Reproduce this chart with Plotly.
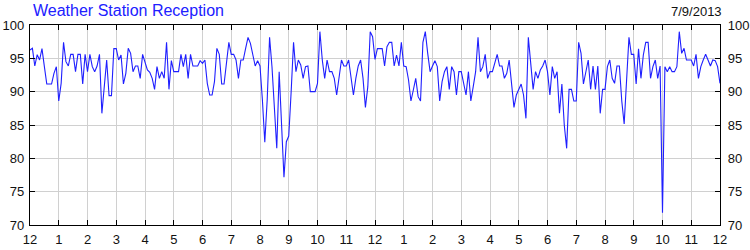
import plotly.graph_objects as go

# Reception (%) sampled every 5 minutes over 24 hours (289 samples)
reception = [
    96.25, 96.5, 93.85, 95.55, 94.75, 96.45, 93.75, 91.15, 91.15, 91.15,
    92.75, 93.75, 88.6, 91.25, 97.4, 94.5, 93.85, 95.6, 95.6, 93.0,
    95.6, 95.6, 91.15, 95.6, 93.0, 95.6, 93.75, 93.0, 93.85, 95.6,
    86.75, 90.75, 94.75, 89.4, 89.4, 96.45, 96.45, 94.75,
    95.5, 91.15, 92.75, 96.5, 95.75, 93.0, 93.85, 93.85, 92.0, 95.6,
    94.5, 93.25, 92.9, 92.0, 90.35, 93.75, 92.0, 93.0, 92.0, 97.4,
    90.35, 94.65, 93.0, 93.0, 93.0, 95.6, 93.75, 95.6, 92.0, 95.6,
    93.85, 93.85, 93.85, 94.65, 94.25,
    94.75, 91.25, 89.5, 89.5, 91.5, 96.5, 95.6, 91.15, 91.15, 94.75,
    97.4, 95.6, 95.6, 94.75, 92.0, 94.75, 94.75, 96.5, 98.15, 97.25,
    95.75, 93.85, 94.65, 93.85, 88.75, 82.4, 88.75, 98.15, 93.75, 88.25,
    81.5, 93.0, 85.75, 77.15, 82.5,
    83.35, 90.0, 97.4, 93.0, 94.75, 94.0, 92.0, 93.75, 93.85, 90.0,
    90.0, 90.0, 91.25, 99.0, 94.75, 92.0, 94.75, 93.0, 93.0, 92.0,
    89.5, 92.0, 94.75, 93.85, 93.85, 94.75, 92.25, 89.5, 92.0, 93.85,
    94.75, 92.0, 87.65, 90.75, 99.0,
    98.25, 94.85, 96.45, 96.45, 96.45, 93.85, 96.75, 97.4, 97.4, 93.85,
    95.5, 93.85, 97.4, 93.85, 93.75, 91.75, 88.6, 90.25, 92.0, 89.25,
    88.6, 97.4, 99.0, 95.75, 93.0, 93.85, 94.65, 93.75, 88.6, 91.5,
    93.0, 93.75, 90.35, 93.75, 93.0,
    89.5, 93.0, 93.0, 91.25, 89.5, 93.0, 88.6, 90.75, 93.0, 98.15,
    93.0, 93.75, 95.6, 92.0, 93.0, 93.0, 94.25, 95.6, 93.85, 93.85,
    92.0, 92.75, 94.75, 90.75, 87.65, 89.5, 90.25, 91.15, 89.5, 86.0,
    98.15, 94.25, 90.35, 93.0, 92.0, 93.25,
    93.85, 94.75, 93.0, 89.5, 93.75, 92.0, 93.0, 86.75, 91.15, 85.0,
    81.5, 90.35, 90.35, 88.6, 88.6, 97.4, 95.75, 91.15, 93.25, 94.75,
    90.35, 93.85, 90.35, 93.85, 86.75, 90.35, 90.35, 93.75, 94.75, 92.0,
    91.25, 93.85, 93.85, 88.6, 85.15,
    92.75, 98.15, 95.6, 95.6, 91.15, 96.45, 92.0, 95.5, 97.4, 97.4,
    92.0, 93.75, 94.75, 92.0, 93.85, 71.85, 93.75, 93.0, 93.75, 93.0,
    93.0, 93.75, 99.0, 95.75, 96.5, 94.75, 94.75, 94.75, 93.85, 95.6,
    92.0, 93.75, 94.75, 95.6, 94.75, 93.85, 94.75, 94.65, 93.75, 91.25,
]
samples_per_hour = 12
hours = [i / samples_per_hour for i in range(len(reception))]

hour_ticks = list(range(25))
hour_labels = ["12", "1", "2", "3", "4", "5", "6", "7", "8", "9", "10", "11",
               "12", "1", "2", "3", "4", "5", "6", "7", "8", "9", "10", "11", "12"]
y_ticks = [70, 75, 80, 85, 90, 95, 100]

title_text = "Weather Station Reception"
date_text = "7/9/2013"

FONT = "Arial, Liberation Sans, sans-serif"

fig = go.Figure()
fig.add_trace(go.Scatter(
    x=hours, y=reception, mode="lines",
    line=dict(color="#1f1fff", width=1.1),
    hoverinfo="skip", showlegend=False,
))
# invisible trace to activate right axis
fig.add_trace(go.Scatter(
    x=[hours[0]], y=[reception[0]], yaxis="y2", mode="markers",
    marker=dict(opacity=0), showlegend=False, hoverinfo="skip",
))

axis_common = dict(
    showline=True, linecolor="black", linewidth=1.2,
    ticks="inside", ticklen=5, tickcolor="black", tickwidth=1,
    showgrid=True, gridcolor="#d0d0d0", gridwidth=1,
    zeroline=False, automargin=False,
    tickfont=dict(family=FONT, size=13, color="#111111"),
)

fig.update_layout(
    width=750, height=250,
    margin=dict(l=30, r=30, t=25, b=25),
    paper_bgcolor="white", plot_bgcolor="white",
    xaxis=dict(
        range=[0, 24], tickmode="array", tickvals=hour_ticks, ticktext=hour_labels,
        mirror="ticks", ticklabelstandoff=2, **axis_common,
    ),
    yaxis=dict(
        range=[70, 100], tickmode="array", tickvals=y_ticks,
        mirror="ticks", ticklabelstandoff=2, **axis_common,
    ),
    yaxis2=dict(
        range=[70, 100], tickmode="array", tickvals=y_ticks,
        overlaying="y", side="right", showgrid=False,
        showline=True, linecolor="black", linewidth=1.2,
        ticks="inside", ticklen=5, tickcolor="black",
        zeroline=False, automargin=False, ticklabelstandoff=4,
        tickfont=dict(family=FONT, size=13, color="#111111"),
    ),
    annotations=[
        dict(text=title_text, xref="paper", yref="paper", x=0, y=1,
             xanchor="left", yanchor="bottom", xshift=1, yshift=4, showarrow=False,
             font=dict(family=FONT, size=16, color="#2020ff")),
        dict(text=date_text, xref="paper", yref="paper", x=1, y=1,
             xanchor="right", yanchor="bottom", xshift=4, yshift=4, showarrow=False,
             font=dict(family=FONT, size=13, color="#111111")),
    ],
)

fig.write_html("out.html")
